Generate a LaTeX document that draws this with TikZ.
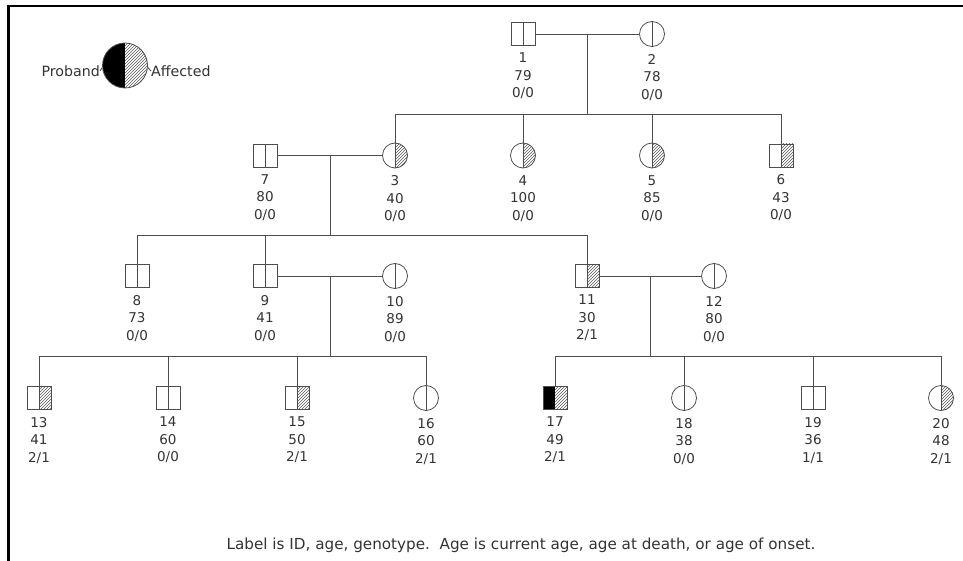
\documentclass[tikz,border=0pt]{standalone}
\usepackage{fontspec}
\setmainfont{DejaVu Sans}
\usetikzlibrary{positioning,patterns}
\definecolor{lineg}{HTML}{4D4D4D}
\definecolor{txtg}{HTML}{333333}
\tikzset{
  conn/.style={draw=lineg, line width=0.8pt},
  sym/.style={draw=lineg, line width=0.8pt, inner sep=0pt},
  male/.style={sym, rectangle, minimum width=24pt, minimum height=23pt},
  female/.style={sym, circle, minimum size=25pt},
  plain/.style={path picture={
      \draw[conn] (path picture bounding box.north) -- (path picture bounding box.south);}},
  aff/.style={path picture={
      \fill[pattern=north east lines, pattern color=black!65] (path picture bounding box.north) rectangle (path picture bounding box.south east);
      \draw[conn] (path picture bounding box.north) -- (path picture bounding box.south);}},
  prob/.style={path picture={
      \fill[black] (path picture bounding box.north) rectangle (path picture bounding box.south west);
      \fill[pattern=north east lines, pattern color=black!65] (path picture bounding box.north) rectangle (path picture bounding box.south east);}},
  lbl/.style={align=center, inner sep=0pt, text=txtg, font=\fontsize{13.5}{17.5}\selectfont}
}
\begin{document}
\begin{tikzpicture}[x=1pt, y=-1pt]
    \useasboundingbox (0,0) rectangle (963,561);
    \draw[line width=2.5pt] (963,6) -- (8.7,6) -- (8.7,561);

    % legend
    \node[sym, circle, minimum size=45pt, prob] (leg) at (125,65.5) {};
    \node[lbl, anchor=east, font=\fontsize{14.2}{17}\selectfont] (lprob) at (100,71) {Proband};
    \node[lbl, anchor=west, font=\fontsize{14.2}{17}\selectfont] (laff) at (151,71) {Affected};
    \draw[conn] (lprob.east) -- (leg.185);
    \draw[conn] (laff.west) -- (leg.-5);

    % generation 1
    \node[male, plain] (p1) at (523,34) {};
    \node[female, plain] (p2) at (652,34) {};
    \node[lbl, below=7pt of p1] (t1) {1\\79\\0/0};
    \node[lbl, below=7pt of p2] (t2) {2\\78\\0/0};
    \draw[conn] (p1.east) -- (p2.west);
    \coordinate (m1) at (587,34);
    \coordinate (s1) at (587,114);
    \draw[conn] (m1) -- (s1);

    % generation 2
    \node[male, plain] (p7) at (265,155.5) {};
    \node[female, aff] (p3) at (395,155.5) {};
    \node[female, aff] (p4) at (523,155.5) {};
    \node[female, aff] (p5) at (652,155.5) {};
    \node[male, aff] (p6) at (781,155.5) {};
    \node[lbl, below=7pt of p7] (t7) {7\\80\\0/0};
    \node[lbl, below=7pt of p3] (t3) {3\\40\\0/0};
    \node[lbl, below=7pt of p4] (t4) {4\\100\\0/0};
    \node[lbl, below=7pt of p5] (t5) {5\\85\\0/0};
    \node[lbl, below=7pt of p6] (t6) {6\\43\\0/0};
    \draw[conn] (s1) -| (p3.north);
    \draw[conn] (s1) -| (p6.north);
    \draw[conn] (p4.north) -- (p4.north |- s1);
    \draw[conn] (p5.north) -- (p5.north |- s1);
    \draw[conn] (p7.east) -- (p3.west);
    \coordinate (m2) at (330,155.5);
    \coordinate (s2) at (330,235);
    \draw[conn] (m2) -- (s2);

    % generation 3
    \node[male, plain] (p8) at (137,276) {};
    \node[male, plain] (p9) at (265,276) {};
    \node[female, plain] (p10) at (395,276) {};
    \node[male, aff] (p11) at (587,276) {};
    \node[female, plain] (p12) at (714,276) {};
    \node[lbl, below=7pt of p8] (t8) {8\\73\\0/0};
    \node[lbl, below=7pt of p9] (t9) {9\\41\\0/0};
    \node[lbl, below=7pt of p10] (t10) {10\\89\\0/0};
    \node[lbl, below=7pt of p11] (t11) {11\\30\\2/1};
    \node[lbl, below=7pt of p12] (t12) {12\\80\\0/0};
    \draw[conn] (s2) -| (p8.north);
    \draw[conn] (s2) -| (p11.north);
    \draw[conn] (p9.north) -- (p9.north |- s2);
    \draw[conn] (p9.east) -- (p10.west);
    \draw[conn] (p11.east) -- (p12.west);
    \coordinate (m3) at (330,276);
    \coordinate (s3) at (330,356);
    \coordinate (m4) at (650,276);
    \coordinate (s4) at (650,356);
    \draw[conn] (m3) -- (s3);
    \draw[conn] (m4) -- (s4);

    % generation 4
    \node[male, aff] (p13) at (39,398) {};
    \node[male, plain] (p14) at (168,398) {};
    \node[male, aff] (p15) at (297,398) {};
    \node[female, plain] (p16) at (426,398) {};
    \node[male, prob] (p17) at (555,398) {};
    \node[female, plain] (p18) at (684,398) {};
    \node[male, plain] (p19) at (813,398) {};
    \node[female, aff] (p20) at (941,398) {};
    \node[lbl, below=7pt of p13] (t13) {13\\41\\2/1};
    \node[lbl, below=7pt of p14] (t14) {14\\60\\0/0};
    \node[lbl, below=7pt of p15] (t15) {15\\50\\2/1};
    \node[lbl, below=7pt of p16] (t16) {16\\60\\2/1};
    \node[lbl, below=7pt of p17] (t17) {17\\49\\2/1};
    \node[lbl, below=7pt of p18] (t18) {18\\38\\0/0};
    \node[lbl, below=7pt of p19] (t19) {19\\36\\1/1};
    \node[lbl, below=7pt of p20] (t20) {20\\48\\2/1};
    \draw[conn] (s3) -| (p13.north);
    \draw[conn] (s3) -| (p16.north);
    \draw[conn] (p14.north) -- (p14.north |- s3);
    \draw[conn] (p15.north) -- (p15.north |- s3);
    \draw[conn] (s4) -| (p17.north);
    \draw[conn] (s4) -| (p20.north);
    \draw[conn] (p18.north) -- (p18.north |- s4);
    \draw[conn] (p19.north) -- (p19.north |- s4);

    \node[lbl, font=\fontsize{15.2}{18}\selectfont] (note) at (521,545) {Label is ID, age, genotype.\ \ Age is current age, age at death, or age of onset.};
\end{tikzpicture}
\end{document}
